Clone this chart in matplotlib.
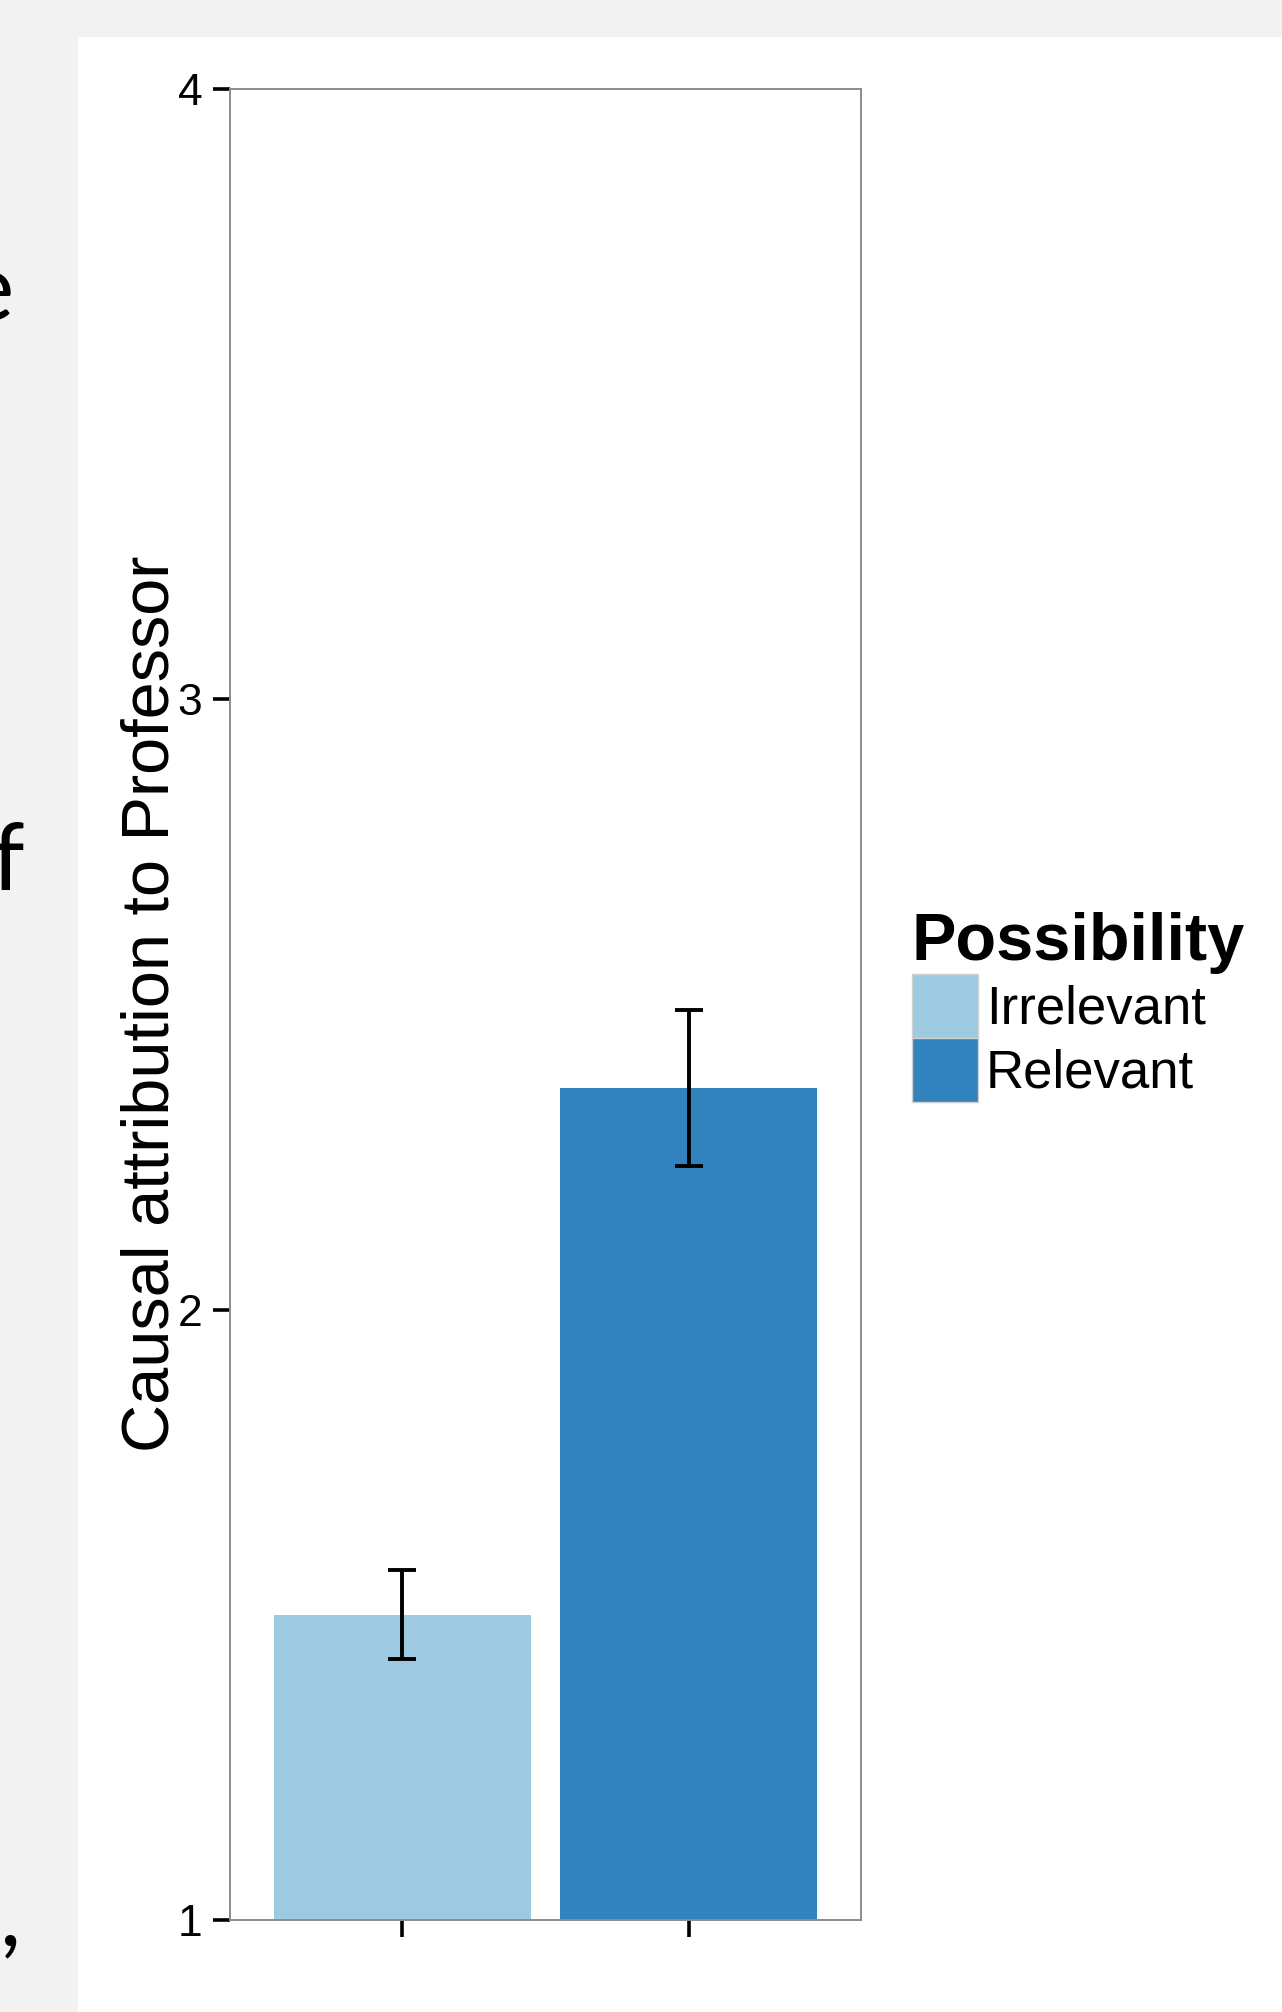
import matplotlib.pyplot as plt
from matplotlib.patches import Patch, Rectangle

# data
possibility = ['Irrelevant', 'Relevant']
means = [1.50, 2.363]
errors = [0.073, 0.128]
colors = ['#9ecae1', '#3182bd']
yticks = [1, 2, 3, 4]

plt.rcParams['font.family'] = ['Liberation Sans', 'DejaVu Sans']

W, H = 1282, 2012
fig = plt.figure(figsize=(W / 100, H / 100), dpi=100, facecolor='#f2f2f2')

# white slide panel over the grey screen background
fig.patches.append(Rectangle((78 / W, 0), 1, 1 - 37 / H, transform=fig.transFigure,
                             facecolor='white', edgecolor='none', zorder=-5))

# bits of slide text cut off at the left edge
fig.text(13 / W, 1 - 320 / H, 'e', fontsize=67, family='Lato', ha='right', va='baseline')
fig.text(-8 / W, 1 - 890 / H, 'f', fontsize=67, family='Lato', ha='left', va='baseline')
fig.text(0 / W, 1 - 1945 / H, ',', fontsize=67, family='Lato', ha='left', va='baseline')

ax = fig.add_axes([230 / W, 1 - 1920 / H, 631 / W, 1831 / H])
x = [0, 1]
ax.bar(x, means, width=0.896, color=colors, zorder=1)
ax.errorbar(x, means, yerr=errors, fmt='none', ecolor='black', elinewidth=2.8,
            capsize=10, capthick=2.8, zorder=3)

ax.set_xlim(-0.6, 1.6)
ax.set_ylim(1, 4)
ax.set_yticks(yticks)
ax.set_xticks(x)
ax.set_xticklabels(['', ''])
ax.tick_params(axis='both', length=12, width=2.6, color='black', labelsize=32, pad=8)
for s in ax.spines.values():
    s.set_color('#8c8c8c')
    s.set_linewidth(1.4)

fig.text(169 / W, 1 - 1004 / H, 'Causal attribution to Professor', fontsize=48,
         rotation=90, rotation_mode='anchor', ha='center', va='baseline')

handles = [Patch(facecolor=c, edgecolor='#d0d0d0', linewidth=1, label=l)
           for c, l in zip(colors, possibility)]
fig.legend(handles=handles, title='Possibility', loc='upper left',
           bbox_to_anchor=(912 / W, 1 - 912 / H), frameon=False, fontsize=38,
           title_fontproperties={'weight': 'bold', 'size': 48},
           handlelength=1.25, handleheight=1.49, handletextpad=0.15,
           labelspacing=0, borderpad=0, borderaxespad=0, alignment='left')

fig.savefig('out.png', dpi=100, facecolor=fig.get_facecolor())
